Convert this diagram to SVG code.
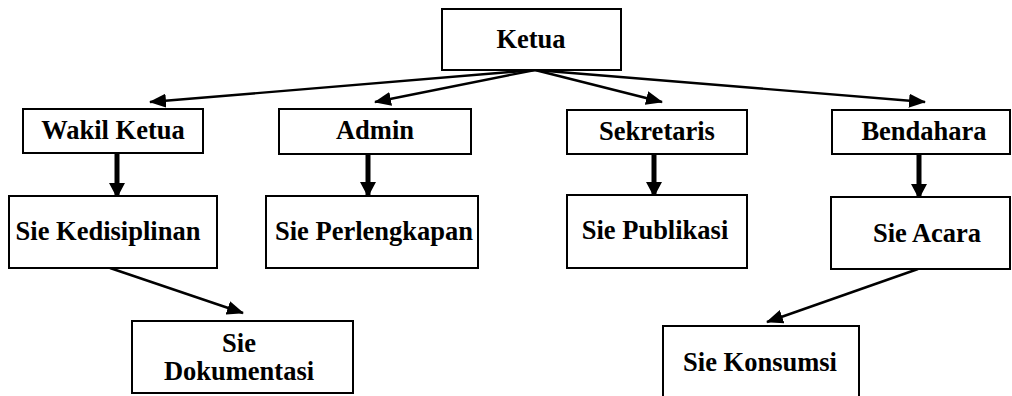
<svg xmlns="http://www.w3.org/2000/svg" width="1012" height="396" viewBox="0 0 1012 396">
<style>
.box{fill:#fff;stroke:#000;stroke-width:2}
.t{font-family:"Liberation Serif","Times New Roman",serif;font-weight:bold;font-size:26.5px;fill:#000;text-anchor:middle}
.thin{stroke:#000;stroke-width:2.4;fill:none}
.thick{stroke:#000;stroke-width:5;fill:none}
</style>
<defs>
<marker id="ah" markerUnits="userSpaceOnUse" markerWidth="17" markerHeight="14" refX="16" refY="7" orient="auto">
<path d="M0,0 L17,7 L0,14 Z" fill="#000"/>
</marker>
<marker id="ahk" markerUnits="userSpaceOnUse" markerWidth="15" markerHeight="16" refX="14" refY="8" orient="auto">
<path d="M0,0 L15,8 L0,16 Z" fill="#000"/>
</marker>
</defs>
<g id="connectors">
<line class="thin" x1="535" y1="70" x2="150" y2="102" marker-end="url(#ah)"/>
<line class="thin" x1="535" y1="70" x2="375" y2="102" marker-end="url(#ah)"/>
<line class="thin" x1="535" y1="70" x2="662" y2="102" marker-end="url(#ah)"/>
<line class="thin" x1="535" y1="70" x2="925" y2="102" marker-end="url(#ah)"/>
<line class="thick" x1="117" y1="153" x2="117" y2="197" marker-end="url(#ahk)"/>
<line class="thick" x1="368" y1="152" x2="368" y2="196" marker-end="url(#ahk)"/>
<line class="thick" x1="654" y1="152" x2="654" y2="196" marker-end="url(#ahk)"/>
<line class="thick" x1="919" y1="154" x2="919" y2="198" marker-end="url(#ahk)"/>
<line class="thin" x1="110" y1="268" x2="243" y2="313" marker-end="url(#ah)"/>
<line class="thin" x1="918" y1="269" x2="767" y2="322" marker-end="url(#ah)"/>
</g>
<g id="ketua"><rect class="box" x="442" y="9" width="179" height="61"/><text class="t" x="531" y="48">Ketua</text></g>
<g id="wakil"><rect class="box" x="23" y="109" width="180" height="44"/><text class="t" x="113" y="139">Wakil Ketua</text></g>
<g id="admin"><rect class="box" x="279" y="109" width="192" height="45"/><text class="t" x="375" y="139">Admin</text></g>
<g id="sekretaris"><rect class="box" x="567" y="110" width="180" height="44"/><text class="t" x="657" y="140">Sekretaris</text></g>
<g id="bendahara"><rect class="box" x="832" y="110" width="178" height="44"/><text class="t" x="924" y="140">Bendahara</text></g>
<g id="kedisiplinan"><rect class="box" x="9" y="196" width="208" height="72"/><text class="t" x="108" y="240">Sie Kedisiplinan</text></g>
<g id="perlengkapan"><rect class="box" x="266" y="196" width="212" height="72"/><text class="t" x="374" y="240">Sie Perlengkapan</text></g>
<g id="publikasi"><rect class="box" x="567" y="195" width="180" height="73"/><text class="t" x="655" y="239">Sie Publikasi</text></g>
<g id="acara"><rect class="box" x="831" y="197" width="179" height="72"/><text class="t" x="927" y="242">Sie Acara</text></g>
<g id="dokumentasi"><rect class="box" x="132" y="321" width="221" height="72"/><text class="t" x="239" y="352">Sie</text><text class="t" x="239" y="380">Dokumentasi</text></g>
<g id="konsumsi"><rect class="box" x="663" y="326" width="196" height="80"/><text class="t" x="760" y="371">Sie Konsumsi</text></g>
</svg>
